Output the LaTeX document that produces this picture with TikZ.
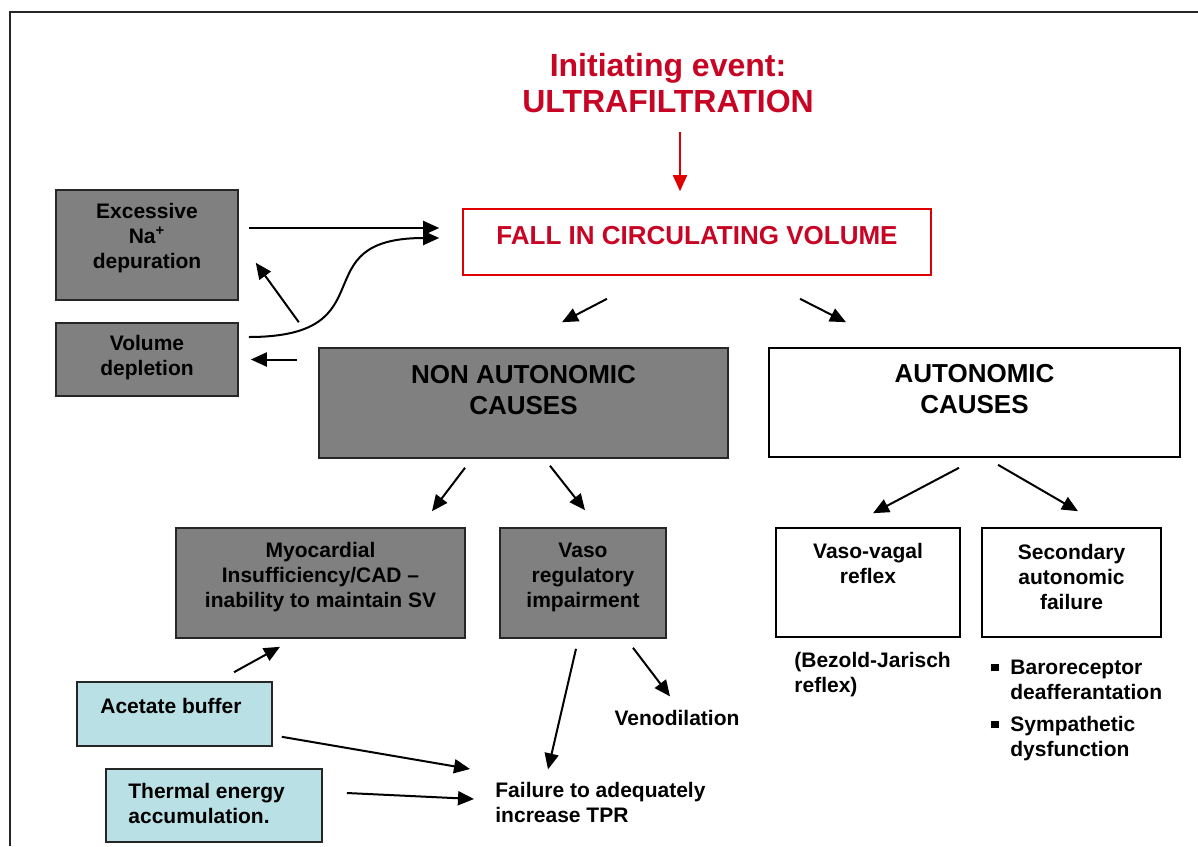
\documentclass[tikz,border=0pt]{standalone}
\usepackage{fontspec}
\setmainfont{Liberation Sans}
\usepackage{tikz}
\usetikzlibrary{arrows.meta, positioning}
\definecolor{myred}{RGB}{200,4,36}
\definecolor{linered}{RGB}{222,0,0}
\definecolor{boxgrey}{RGB}{128,128,128}
\definecolor{lightcyan}{RGB}{185,224,228}
\newcommand{\sqbullet}{\makebox[9.5pt][l]{\rule[1.6pt]{3.6pt}{3.6pt}}}

\begin{document}
\begin{tikzpicture}[x=0.5pt, y=-0.5pt,
    txt/.style={inner sep=0pt, align=center, font=\fontsize{10.5}{12.5}\selectfont\bfseries},
    bigtxt/.style={inner sep=0pt, align=center, font=\fontsize{13}{15.5}\selectfont\bfseries},
    greybox/.style={draw=black!85, fill=boxgrey, line width=0.8pt, inner sep=0pt},
    whitebox/.style={draw=black, fill=white, line width=0.8pt, inner sep=0pt},
    cyanbox/.style={draw=black!85, fill=lightcyan, line width=0.8pt, inner sep=0pt},
    arr/.style={-{Triangle[length=8pt,width=7pt]}, line width=1pt},
    redarr/.style={-{Triangle[length=8pt,width=7pt]}, line width=0.9pt, linered}]
    \useasboundingbox (0,0) rectangle (1198,846);

    % Frame
    \draw[line width=1pt, black!85] (10,846) -- (10,12) -- (1198,12);

    % Initiating event
    \node[myred, inner sep=0pt, align=center, font=\fontsize{16}{18}\selectfont\bfseries] (title) at (668,83) {Initiating event:\\ULTRAFILTRATION};
    \node[draw=linered, line width=0.8pt, minimum width=234pt, minimum height=33pt, inner sep=0pt] (fall) at (697,242) {};
    \node[bigtxt, myred] (falltxt) at (697,236) {FALL IN CIRCULATING VOLUME};
    \draw[redarr] ([xshift=6pt,yshift=-9.5pt]title.south) -- ([xshift=-8.5pt,yshift=8.5pt]fall.north);

    % Left boxes
    \node[greybox, minimum width=91pt, minimum height=55pt] (excess) at (147,245) {};
    \node[txt] (excesstxt) at (147,238) {Excessive\\Na\textsuperscript{+}\\depuration};
    \node[greybox, minimum width=91pt, minimum height=36.5pt] (voldep) at (147,359.5) {};
    \node[txt] (voldeptxt) at (147,358) {Volume\\depletion};

    \draw[arr] ([xshift=5pt,yshift=8.5pt]excess.east) -- ([xshift=-11.5pt,yshift=7pt]fall.west);
    \draw[arr] ([xshift=5pt,yshift=11.25pt]voldep.east) .. controls +(71pt,0pt) and +(-70pt,0pt) .. ([xshift=-11.5pt,yshift=2pt]fall.west);
    \draw[arr] ([xshift=30pt]voldep.north east) -- ([xshift=8.5pt,yshift=19pt]excess.south east);

    % Causes
    \node[greybox, minimum width=204.5pt, minimum height=55pt] (nonauto) at (523.5,403) {};
    \node[bigtxt] (nonautotxt) at (523.5,390) {NON AUTONOMIC\\CAUSES};
    \node[whitebox, minimum width=205.5pt, minimum height=54.5pt] (auto) at (974.5,402.5) {};
    \node[bigtxt] (autotxt) at (974.5,389) {AUTONOMIC\\CAUSES};

    \draw[arr, shorten <=10.5pt, shorten >=6pt] (nonauto.west |- voldep.east) -- (voldep.east);
    \draw[arr] ([xshift=-45pt,yshift=-11.5pt]fall.south) -- ([xshift=19.25pt,yshift=12.5pt]nonauto.north);
    \draw[arr] ([xshift=51.5pt,yshift=-11.5pt]fall.south) -- ([xshift=-64.25pt,yshift=12.5pt]auto.north);

    % Non autonomic branch
    \node[greybox, minimum width=144.5pt, minimum height=55pt] (myo) at (320.5,583) {};
    \node[txt] (myotxt) at (320.5,577) {Myocardial\\Insufficiency/CAD --\\inability to maintain SV};
    \node[greybox, minimum width=83pt, minimum height=55pt] (vasoreg) at (583,583) {};
    \node[txt] (vasoregtxt) at (583,577) {Vaso\\regulatory\\impairment};

    \draw[arr] ([xshift=-29.25pt,yshift=-4.5pt]nonauto.south) -- ([xshift=55.75pt,yshift=8pt]myo.north);
    \draw[arr] ([xshift=13.25pt,yshift=-3.5pt]nonauto.south) -- ([xshift=1pt,yshift=8.5pt]vasoreg.north);

    % Autonomic branch
    \node[whitebox, minimum width=92pt, minimum height=54.5pt] (vagal) at (868,582.5) {};
    \node[txt] (vagaltxt) at (868,563) {Vaso-vagal\\reflex};
    \node[whitebox, minimum width=89.5pt, minimum height=54.5pt] (second) at (1071.5,582.5) {};
    \node[txt] (secondtxt) at (1071.5,577) {Secondary\\autonomic\\failure};

    \draw[arr] ([xshift=-7.75pt,yshift=-5pt]auto.south) -- ([xshift=2.5pt,yshift=7pt]vagal.north);
    \draw[arr] ([xshift=11.75pt,yshift=-3.5pt]auto.south) -- ([xshift=3.25pt,yshift=8pt]second.north);

    \node[txt, anchor=west, align=left] (bezold) at (794,675) {(Bezold-Jarisch\\reflex)};
    \node[txt, anchor=west, align=left] (secondlist) at (991,710.5) {\sqbullet Baroreceptor\\\hspace*{9.5pt}deafferantation\\[3.5pt]\sqbullet Sympathetic\\\hspace*{9.5pt}dysfunction};

    % Dialysis factors
    \node[cyanbox, minimum width=97.5pt, minimum height=32pt] (acetate) at (174.5,714) {};
    \node[txt, anchor=west] (acetatetxt) at (100,706) {Acetate buffer};
    \node[cyanbox, minimum width=108pt, minimum height=36.5pt] (thermal) at (214,805.5) {};
    \node[txt, anchor=west, align=left] (thermaltxt) at (128,803) {Thermal energy\\accumulation.};

    \node[txt] (veno) at (677,717.5) {Venodilation};
    \node[txt, anchor=west, align=left] (failure) at (495,802) {Failure to adequately\\increase TPR};

    \draw[arr] ([xshift=29.75pt,yshift=4.5pt]acetate.north) -- ([xshift=-20.25pt,yshift=-4pt]myo.south);
    \draw[arr] ([xshift=4.5pt,yshift=5pt]acetate.south east) -- ([xshift=-12.5pt,yshift=16.5pt]failure.west);
    \draw[arr] ([xshift=12pt,yshift=6.25pt]thermal.east) -- ([xshift=-10.5pt,yshift=1.5pt]failure.west);
    \draw[arr] ([xshift=-3.5pt,yshift=-5pt]vasoreg.south) -- ([xshift=26.5pt,yshift=6pt]failure.north west);
    \draw[arr] ([xshift=25pt,yshift=-4.5pt]vasoreg.south) -- ([xshift=-3.5pt,yshift=6.5pt]veno.north);
\end{tikzpicture}
\end{document}
